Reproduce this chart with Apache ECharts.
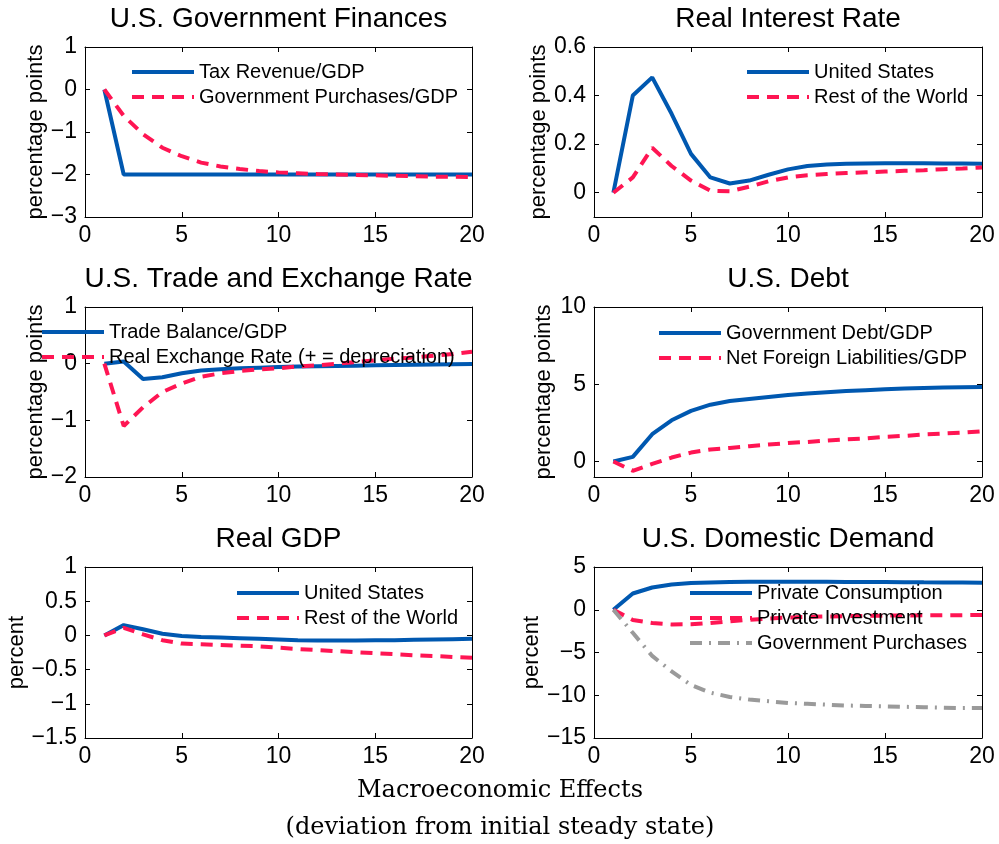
<!DOCTYPE html>
<html>
<head>
<meta charset="utf-8">
<script src="https://cdn.jsdelivr.net/npm/echarts@6/dist/echarts.min.js"></script>
<style>
html, body { margin: 0; padding: 0; background: #fff; }
#chart { width: 999px; height: 844px; }
</style>
</head>
<body>
<div id="chart"></div>
<script>
// quarters after the shock
const periods = [1, 2, 3, 4, 5, 6, 7, 8, 9, 10, 11, 12, 13, 14, 15, 16, 17, 18, 19, 20];

// U.S. Government Finances
const taxRevenue = [0, -2, -2, -2, -2, -2, -2, -2, -2, -2, -2, -2, -2, -2, -2, -2, -2, -2, -2, -2];
const govPurchasesGdp = [0, -0.62, -1.05, -1.37, -1.57, -1.72, -1.81, -1.87, -1.92, -1.95, -1.97, -1.99, -2.0, -2.01, -2.02, -2.03, -2.04, -2.05, -2.05, -2.06];

// Real Interest Rate
const rateUS = [0, 0.40, 0.475, 0.325, 0.16, 0.063, 0.038, 0.05, 0.074, 0.096, 0.11, 0.116, 0.119, 0.12, 0.121, 0.121, 0.121, 0.12, 0.12, 0.119];
const rateRoW = [0, 0.063, 0.185, 0.11, 0.05, 0.008, 0.006, 0.025, 0.047, 0.063, 0.072, 0.077, 0.081, 0.084, 0.087, 0.09, 0.093, 0.097, 0.1, 0.104];

// U.S. Trade and Exchange Rate
const tradeBalance = [0, 0.04, -0.27, -0.24, -0.17, -0.12, -0.1, -0.08, -0.07, -0.06, -0.05, -0.045, -0.04, -0.035, -0.03, -0.025, -0.02, -0.015, -0.01, -0.005];
const realExchangeRate = [0, -1.1, -0.77, -0.5, -0.35, -0.23, -0.17, -0.13, -0.1, -0.08, -0.05, -0.03, 0.0, 0.03, 0.06, 0.09, 0.11, 0.14, 0.17, 0.21];

// U.S. Debt
const govDebt = [0, 0.3, 1.77, 2.67, 3.28, 3.68, 3.92, 4.05, 4.18, 4.3, 4.4, 4.49, 4.56, 4.62, 4.67, 4.72, 4.76, 4.79, 4.81, 4.83];
const netForeignLiab = [0, -0.6, -0.15, 0.26, 0.58, 0.78, 0.88, 0.99, 1.1, 1.2, 1.27, 1.36, 1.44, 1.5, 1.6, 1.66, 1.75, 1.81, 1.87, 1.96];

// Real GDP
const gdpUS = [0, 0.15, 0.09, 0.025, -0.01, -0.025, -0.03, -0.04, -0.05, -0.06, -0.07, -0.075, -0.075, -0.075, -0.07, -0.07, -0.065, -0.06, -0.055, -0.05];
const gdpRoW = [0, 0.11, 0.015, -0.07, -0.12, -0.13, -0.14, -0.15, -0.16, -0.18, -0.2, -0.215, -0.23, -0.245, -0.26, -0.275, -0.29, -0.3, -0.315, -0.325];

// U.S. Domestic Demand
const privConsumption = [0, 1.9, 2.6, 2.95, 3.12, 3.2, 3.25, 3.27, 3.28, 3.28, 3.28, 3.27, 3.26, 3.25, 3.24, 3.23, 3.21, 3.2, 3.18, 3.15];
const privInvestment = [0, -1.2, -1.55, -1.72, -1.7, -1.55, -1.35, -1.18, -1.02, -0.92, -0.84, -0.79, -0.75, -0.72, -0.69, -0.67, -0.65, -0.64, -0.63, -0.62];
const govPurchases = [0, -2.7, -5.4, -7.2, -8.8, -9.7, -10.2, -10.5, -10.7, -10.9, -11.0, -11.1, -11.2, -11.25, -11.3, -11.35, -11.4, -11.45, -11.5, -11.5];

// y tick values where the axis range does not start on a tick
const rateTicks = [0, 0.2, 0.4, 0.6];
const debtTicks = [0, 5, 10];

const BLUE = '#0058b0';
const RED = '#ff1553';
const GRAY = '#9a9a9a';
const SANS = 'Liberation Sans, Arial, Helvetica, sans-serif';

const styles = {
    solid: {color: BLUE, type: 'solid'},
    dash: {color: RED, type: [12, 8]},
    dashdot: {color: GRAY, type: [12, 7, 2, 7]}
};

const panels = [
    {title: 'U.S. Government Finances', box: [85, 47, 387, 170], y: {min: -3, max: 1, interval: 1},
     yName: 'percentage points', nameGap: 37, legend: [130, 62],
     lines: [['Tax Revenue/GDP', taxRevenue, 'solid'], ['Government Purchases/GDP', govPurchasesGdp, 'dash']]},
    {title: 'Real Interest Rate', box: [594, 47, 388, 170], y: {min: -0.1, max: 0.6, ticks: rateTicks},
     yName: 'percentage points', nameGap: 42, legend: [745, 62],
     lines: [['United States', rateUS, 'solid'], ['Rest of the World', rateRoW, 'dash']]},
    {title: 'U.S. Trade and Exchange Rate', box: [85, 307, 387, 170], y: {min: -2, max: 1, interval: 1},
     yName: 'percentage points', nameGap: 38, legend: [40, 322],
     lines: [['Trade Balance/GDP', tradeBalance, 'solid'], ['Real Exchange Rate (+ = depreciation)', realExchangeRate, 'dash']]},
    {title: 'U.S. Debt', box: [594, 307, 388, 170], y: {min: -1, max: 10, ticks: debtTicks},
     yName: 'percentage points', nameGap: 39, legend: [657, 323],
     lines: [['Government Debt/GDP', govDebt, 'solid'], ['Net Foreign Liabilities/GDP', netForeignLiab, 'dash']]},
    {title: 'Real GDP', box: [85, 567, 387, 171], y: {min: -1.5, max: 1, interval: 0.5},
     yName: 'percent', nameGap: 57, legend: [235, 583],
     lines: [['United States', gdpUS, 'solid'], ['Rest of the World', gdpRoW, 'dash']]},
    {title: 'U.S. Domestic Demand', box: [594, 567, 388, 171], y: {min: -15, max: 5, interval: 5},
     yName: 'percent', nameGap: 51, legend: [688, 583],
     lines: [['Private Consumption', privConsumption, 'solid'], ['Private Investment', privInvestment, 'dash'],
             ['Government Purchases', govPurchases, 'dashdot']]}
];

const minus = v => String(v).replace('-', '\u2212');

const grid = [], xAxis = [], yAxis = [], series = [], legend = [], graphic = [];

panels.forEach((p, i) => {
    const [left, top, width, height] = p.box;
    grid.push({left, top, width, height, containLabel: false, outerBoundsMode: 'none'});

    const tick = {show: true, inside: true, length: 5, lineStyle: {color: '#000', width: 1}};
    const line = {show: true, onZero: false, lineStyle: {color: '#000', width: 1}};
    const label = {color: '#000', fontFamily: SANS, fontSize: 23, formatter: minus};

    ['bottom', 'top'].forEach(pos => {
        xAxis.push({
            type: 'value', gridIndex: i, position: pos, min: 0, max: 20, interval: 5,
            axisLine: line, axisTick: tick, splitLine: {show: false},
            axisLabel: pos === 'bottom' ? {...label, margin: 7} : {show: false}
        });
    });

    ['left', 'right'].forEach(pos => {
        const ax = {
            type: 'value', gridIndex: i, position: pos, min: p.y.min, max: p.y.max,
            axisLine: line, axisTick: {...tick}, splitLine: {show: false},
            axisLabel: pos === 'left' ? {...label, margin: 8} : {show: false}
        };
        if (p.y.interval) {
            ax.interval = p.y.interval;
        } else {
            ax.axisTick.customValues = p.y.ticks;
            if (pos === 'left') ax.axisLabel.customValues = p.y.ticks;
        }
        if (pos === 'left') {
            Object.assign(ax, {
                name: p.yName, nameLocation: 'middle', nameGap: p.nameGap, nameRotate: 90,
                nameTextStyle: {color: '#000', fontFamily: SANS, fontSize: 22}
            });
        }
        yAxis.push(ax);
    });

    p.lines.forEach(([name, values, kind]) => {
        series.push({
            name, type: 'line', xAxisIndex: i * 2, yAxisIndex: i * 2,
            data: periods.map((t, k) => [t, values[k]]),
            symbol: 'none', silent: true, animation: false,
            lineStyle: {width: 4, color: styles[kind].color, type: styles[kind].type, cap: 'butt'},
            itemStyle: {color: styles[kind].color}
        });
    });

    legend.push({
        orient: 'vertical', left: p.legend[0], top: p.legend[1], padding: 0,
        data: p.lines.map(l => l[0]),
        itemWidth: 62, itemHeight: 14, itemGap: 5, selectedMode: false,
        itemStyle: {opacity: 0},
        lineStyle: {width: 4},
        textStyle: {color: '#000', fontFamily: SANS, fontSize: 20, lineHeight: 20}
    });

    graphic.push({
        type: 'text', x: left + width / 2, y: top - 28,
        style: {text: p.title, fill: '#000', fontFamily: SANS, fontSize: 28,
                align: 'center', verticalAlign: 'middle', textAlign: 'center', textVerticalAlign: 'middle'}
    });
});

graphic.push({
    type: 'text', x: 500, y: 791,
    style: {text: 'Macroeconomic Effects', fill: '#000', fontFamily: 'DejaVu Serif, serif', fontSize: 24,
            align: 'center', verticalAlign: 'middle', textAlign: 'center', textVerticalAlign: 'middle'}
});
graphic.push({
    type: 'text', x: 500, y: 828,
    style: {text: '(deviation from initial steady state)', fill: '#000', fontFamily: 'DejaVu Serif, serif', fontSize: 24,
            align: 'center', verticalAlign: 'middle', textAlign: 'center', textVerticalAlign: 'middle'}
});

const chart = echarts.init(document.getElementById('chart'), null, {renderer: 'canvas'});
chart.setOption({
    backgroundColor: '#fff',
    animation: false,
    grid, xAxis, yAxis, series, legend, graphic
});
</script>
</body>
</html>
